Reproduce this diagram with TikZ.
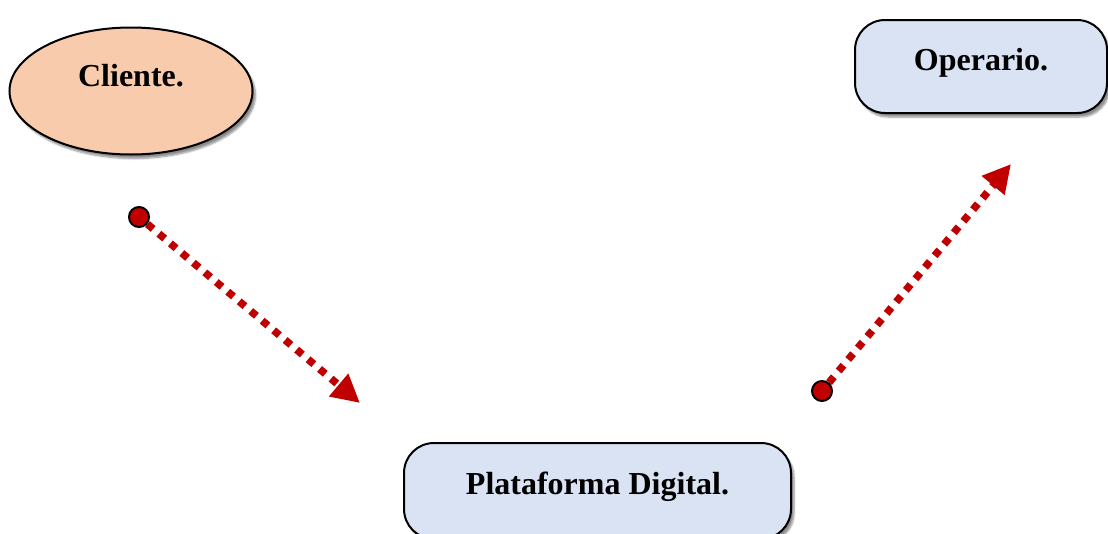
\documentclass[tikz,border=0pt]{standalone}
\usepackage{fontspec}
\setmainfont{Liberation Serif}
\usetikzlibrary{shapes.geometric,arrows.meta,shadows.blur}
\definecolor{peach}{HTML}{F8CBAD}
\definecolor{paleblue}{HTML}{DAE3F3}
\definecolor{darkred}{HTML}{C00000}
\tikzset{
  shadowed/.style={blur shadow={shadow xshift=3pt,shadow yshift=-4pt,shadow blur steps=6,shadow opacity=45}},
  ellbox/.style={ellipse,draw=black,line width=2pt,fill=peach,inner sep=0pt,shadowed},
  roundbox/.style={rectangle,rounded corners=30pt,draw=black,line width=2pt,fill=paleblue,inner sep=0pt,shadowed},
  lbl/.style={font=\bfseries\fontsize{32}{36}\selectfont},
  dotend/.style={circle,draw=black,line width=2pt,fill=darkred,minimum size=20pt,inner sep=0pt},
  flow/.style={draw=darkred,line width=7.5pt,dash pattern=on 7.5pt off 7.5pt,-{Triangle[length=28pt,width=28pt,fill=darkred]}}
}
\begin{document}
\begin{tikzpicture}[x=1pt,y=-1pt]
\useasboundingbox (0,0) rectangle (1108,533);
\node[ellbox,minimum width=243pt,minimum height=127pt,label={[lbl,yshift=15pt]center:Cliente.}] (cliente) at (131,91) {};
\node[roundbox,minimum width=252pt,minimum height=93pt,label={[lbl,yshift=4pt]center:Operario.}] (operario) at (981,66.5) {};
\node[roundbox,minimum width=387pt,minimum height=96pt,label={[lbl,yshift=4pt]center:Plataforma Digital.}] (plataforma) at (597.5,491) {};
\node[dotend] (d1) at (139,217) {};
\node[dotend] (d2) at (822,391) {};
\coordinate (t1) at (360,403);
\coordinate (t2) at (1011,164);
\draw[flow] (d1) -- (t1);
\draw[flow] (d2) -- (t2);
\end{tikzpicture}
\end{document}
